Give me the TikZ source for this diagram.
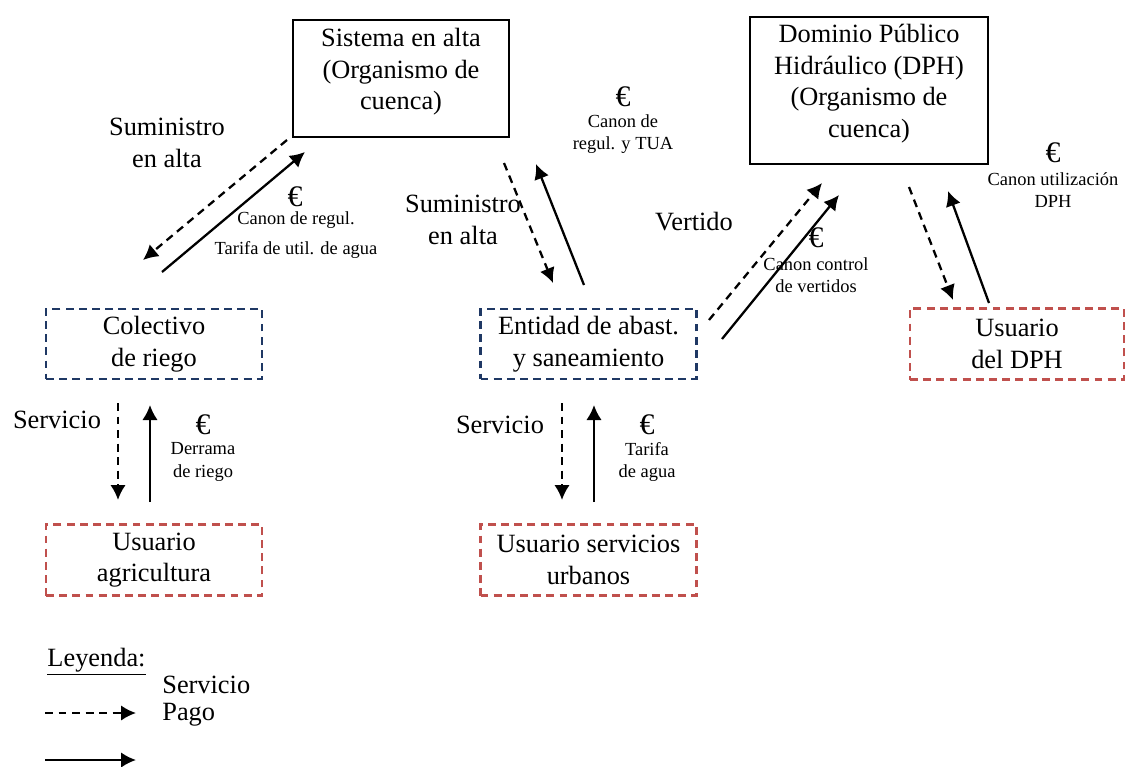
\documentclass[tikz,border=0pt]{standalone}
\usepackage{fontspec}
\setmainfont{Liberation Serif}
\usepackage{tikz}
\usetikzlibrary{arrows.meta}
\definecolor{boxblue}{HTML}{1F3864}
\definecolor{boxred}{HTML}{C0504D}
\newcommand{\txbig}{\fontsize{15}{18}\selectfont}
\newcommand{\txsm}{\fontsize{10.5}{12.6}\selectfont}
\newcommand{\eur}{\fontsize{17}{18}\selectfont\texteuro}
\tikzset{
	>={Latex[length=3mm,width=3.1mm]},
	every node/.style={font=\txbig},
	solidbox/.style={draw,line width=1.2pt,minimum width=#1},
	bluebox/.style={draw=boxblue,line width=1.4pt,dash pattern=on 4.5pt off 3pt,minimum width=4.32cm,minimum height=1.4cm,align=center},
	redbox/.style={draw=boxred,line width=1.4pt,dash pattern=on 4.5pt off 3pt,minimum width=4.32cm,minimum height=1.42cm,align=center},
	serv/.style={line width=1.3pt,dash pattern=on 4.5pt off 3.2pt,->},
	pago/.style={line width=1.3pt,->},
	small/.style={font=\txsm,align=center},
}
\begin{document}
\begin{tikzpicture}
		\useasboundingbox (0,0) rectangle (22.52,-15.32);
		% organismos de cuenca
		\node[solidbox=4.32cm,minimum height=2.34cm] (sistema) at (8.02,-1.57) {};
		\node[align=center] (sistematxt) at (8.02,-1.44) {Sistema en alta\\(Organismo de\\cuenca)};
		\node[solidbox=4.76cm,minimum height=2.94cm] (dph) at (17.38,-1.81) {};
		\node[align=center] (dphtxt) at (17.38,-1.67) {Dominio Público\\Hidráulico (DPH)\\(Organismo de\\cuenca)};
		% entidades y usuarios
		\node[bluebox] (colectivo) at (3.08,-6.88) {Colectivo\\de riego};
		\node[bluebox] (entidad) at (11.77,-6.88) {Entidad de abast.\\y saneamiento};
		\node[redbox,minimum width=4.28cm] (udph) at (20.34,-6.88) {Usuario\\del DPH};
		\node[redbox] (uagri) at (3.08,-11.2) {Usuario\\agricultura};
		\node[redbox] (uurb) at (11.77,-11.2) {Usuario servicios\\urbanos};
		% extremos de flechas
		\coordinate (s1) at (5.74,-2.8);
		\coordinate (c1) at (2.86,-5.2);
		\coordinate (c2) at (3.24,-5.44);
		\coordinate (s2) at (6.1,-3.04);
		\coordinate (s3) at (10.08,-3.26);
		\coordinate (e1) at (11.06,-5.66);
		\coordinate (e2) at (11.68,-5.7);
		\coordinate (s4) at (10.72,-3.28);
		\coordinate (e3) at (14.18,-6.4);
		\coordinate (d1) at (16.44,-3.66);
		\coordinate (e4) at (14.44,-6.78);
		\coordinate (d2) at (16.78,-3.9);
		\coordinate (d3) at (18.18,-3.74);
		\coordinate (u1) at (19.06,-6.0);
		\coordinate (u2) at (19.78,-6.06);
		\coordinate (d4) at (18.96,-3.82);
		\coordinate (c3) at (2.36,-8.06);
		\coordinate (a1) at (2.36,-10.0);
		\coordinate (a2) at (3.0,-10.04);
		\coordinate (c4) at (3.0,-8.1);
		\coordinate (e5) at (11.24,-8.06);
		\coordinate (b1) at (11.24,-10.0);
		\coordinate (b2) at (11.88,-10.04);
		\coordinate (e6) at (11.88,-8.1);
		\draw[serv] (s1) -- (c1);
		\draw[pago] (c2) -- (s2);
		\draw[serv] (s3) -- (e1);
		\draw[pago] (e2) -- (s4);
		\draw[serv] (e3) -- (d1);
		\draw[pago] (e4) -- (d2);
		\draw[serv] (d3) -- (u1);
		\draw[pago] (u2) -- (d4);
		\draw[serv] (c3) -- (a1);
		\draw[pago] (a2) -- (c4);
		\draw[serv] (e5) -- (b1);
		\draw[pago] (b2) -- (e6);
		% etiquetas
		\node[align=center] (sum1) at (3.34,-2.86) {Suministro\\en alta};
		\node[inner sep=0pt] (eur1) at (5.9,-3.94) {\eur};
		\node[small] (canon1) at (5.92,-4.7) {Canon de regul.\\[4pt]Tarifa de util. de agua};
		\node[align=center] (sum2) at (9.26,-4.4) {Suministro\\en alta};
		\node[inner sep=0pt] (eur2) at (12.46,-1.94) {\eur};
		\node[small] (canon2) at (12.46,-2.69) {Canon de\\regul. y TUA};
		\node (vertido) at (13.88,-4.44) {Vertido};
		\node[inner sep=0pt] (eur3) at (16.32,-4.76) {\eur};
		\node[small] (canon3) at (16.32,-5.51) {Canon control\\de vertidos};
		\node[inner sep=0pt] (eur4) at (21.06,-3.06) {\eur};
		\node[small] (canon4) at (21.06,-3.8) {Canon utilización\\DPH};
		\node (serv1) at (1.14,-8.4) {Servicio};
		\node[inner sep=0pt] (eur5) at (4.06,-8.5) {\eur};
		\node[small] (derrama) at (4.06,-9.24) {Derrama\\de riego};
		\node (serv2) at (10.0,-8.5) {Servicio};
		\node[inner sep=0pt] (eur6) at (12.94,-8.5) {\eur};
		\node[small] (tarifa) at (12.94,-9.24) {Tarifa\\de agua};
		% leyenda
		\node (leyenda) at (1.93,-13.24) {\underline{Leyenda:}};
		\node[anchor=west,inner sep=0pt] (lserv) at (3.24,-13.7) {Servicio};
		\node[anchor=west,inner sep=0pt] (lpago) at (3.24,-14.3) {Pago};
		\coordinate (l1) at (0.9,-14.26);
		\coordinate (l2) at (2.72,-14.26);
		\coordinate (l3) at (0.9,-15.2);
		\coordinate (l4) at (2.72,-15.2);
		\draw[serv] (l1) -- (l2);
		\draw[pago] (l3) -- (l4);
	\end{tikzpicture}
\end{document}
